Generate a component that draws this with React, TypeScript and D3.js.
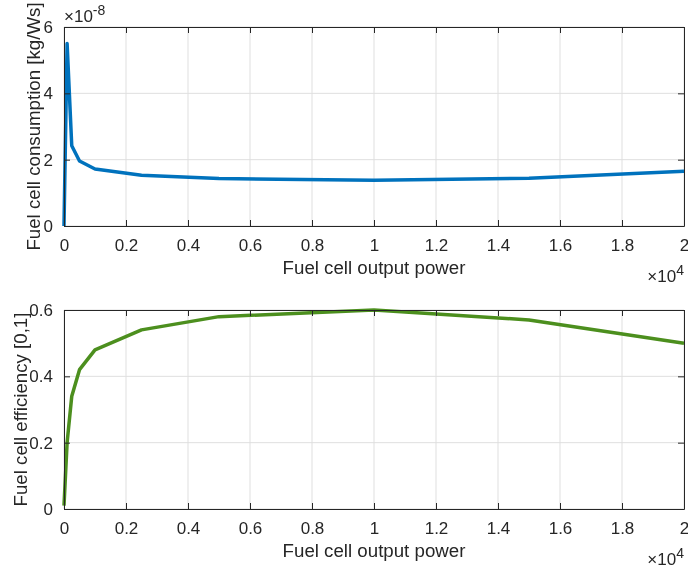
import React, { useEffect, useRef } from 'react'
import * as d3 from 'd3'

// output power [W]
const power = [0, 100, 250, 500, 1000, 2500, 5000, 10000, 15000, 20000]
// fuel consumption [1e-8 kg/Ws]
const consumption = [0, 5.5, 2.42, 1.96, 1.72, 1.53, 1.43, 1.38, 1.44, 1.65]
// efficiency [0,1]
const efficiency = [0.01, 0.2, 0.34, 0.42, 0.48, 0.54, 0.58, 0.6, 0.57, 0.5]

const xTicks = [0, 0.2, 0.4, 0.6, 0.8, 1, 1.2, 1.4, 1.6, 1.8, 2]
const yTicksTop = [0, 2, 4, 6]
const yTicksBottom = [0, 0.2, 0.4, 0.6]

const FONT = 'Liberation Sans, Arial, Helvetica, sans-serif'

function App() {
  const svgRef = useRef<SVGSVGElement>(null)

  useEffect(() => {
    const svg = d3.select(svgRef.current)
    svg.selectAll('*').remove()

    const left = 64, right = 684

    const panels = [
      { top: 27, bottom: 226, y: consumption, yMax: 6, yTicks: yTicksTop, color: '#0072BD', label: 'Fuel cell consumption [kg/Ws]', labelX: 40, exp: '-8' },
      { top: 310, bottom: 509, y: efficiency, yMax: 0.6, yTicks: yTicksBottom, color: '#4C8F1E', label: 'Fuel cell efficiency [0,1]', labelX: 27, exp: null },
    ]

    panels.forEach(p => {
      const x = d3.scaleLinear().domain([0, 2]).range([left, right])
      const y = d3.scaleLinear().domain([0, p.yMax]).range([p.bottom, p.top])
      const g = svg.append('g')

      // grid
      g.selectAll('.gx').data(xTicks).join('line')
        .attr('x1', d => x(d)).attr('x2', d => x(d))
        .attr('y1', p.top).attr('y2', p.bottom)
        .attr('stroke', '#dfdfdf').attr('stroke-width', 1)
      g.selectAll('.gy').data(p.yTicks).join('line')
        .attr('x1', left).attr('x2', right)
        .attr('y1', d => y(d)).attr('y2', d => y(d))
        .attr('stroke', '#dfdfdf').attr('stroke-width', 1)

      // line
      const line = d3.line<number>()
        .x((d, i) => x(power[i] / 10000))
        .y(d => y(d))
      g.append('path')
        .datum(p.y)
        .attr('d', line)
        .attr('fill', 'none')
        .attr('stroke', p.color)
        .attr('stroke-width', 3.5)
        .attr('stroke-linejoin', 'round')

      // axes (ticks inside)
      const xAxis = d3.axisBottom(x).tickValues(xTicks).tickSizeInner(-6).tickSizeOuter(0)
        .tickFormat(d => String(d)).tickPadding(13)
      const xg = g.append('g').attr('transform', `translate(0,${p.bottom})`).call(xAxis)
      const xTop = d3.axisTop(x).tickValues(xTicks).tickSizeInner(-6).tickSizeOuter(0).tickFormat(() => '')
      const xtg = g.append('g').attr('transform', `translate(0,${p.top})`).call(xTop)
      const yAxis = d3.axisLeft(y).tickValues(p.yTicks).tickSizeInner(-6).tickSizeOuter(0)
        .tickFormat(d => String(d)).tickPadding(11)
      const yg = g.append('g').attr('transform', `translate(${left},0)`).call(yAxis)
      const yRight = d3.axisRight(y).tickValues(p.yTicks).tickSizeInner(-6).tickSizeOuter(0).tickFormat(() => '')
      const yrg = g.append('g').attr('transform', `translate(${right},0)`).call(yRight)

      ;[xg, xtg, yg, yrg].forEach(a => {
        a.select('.domain').attr('stroke', '#262626').attr('stroke-width', 1)
        a.selectAll('.tick line').attr('stroke', '#262626')
        a.selectAll('text').attr('fill', '#262626').style('font-family', FONT).style('font-size', '17px')
      })

      // labels
      g.append('text')
        .attr('x', (left + right) / 2).attr('y', p.bottom + 48)
        .attr('text-anchor', 'middle').attr('fill', '#262626')
        .style('font-family', FONT).style('font-size', '18.7px')
        .text('Fuel cell output power')
      g.append('text')
        .attr('transform', `translate(${p.labelX},${(p.top + p.bottom) / 2}) rotate(-90)`)
        .attr('text-anchor', 'middle').attr('fill', '#262626')
        .style('font-family', FONT).style('font-size', '18.7px')
        .text(p.label)

      const ex = g.append('text')
        .attr('x', right).attr('y', p.bottom + 56)
        .attr('text-anchor', 'end').attr('fill', '#262626')
        .style('font-family', FONT).style('font-size', '17px')
      ex.append('tspan').text('×10')
      ex.append('tspan').attr('dy', -7).style('font-size', '14px').text('4')

      if (p.exp) {
        const ey = g.append('text')
          .attr('x', left).attr('y', p.top - 5)
          .attr('fill', '#262626')
          .style('font-family', FONT).style('font-size', '17px')
        ey.append('tspan').text('×10')
        ey.append('tspan').attr('dy', -7).style('font-size', '14px').text(p.exp)
      }
    })
  }, [])

  return <svg ref={svgRef} width={688} height={570} style={{ position: 'fixed', left: 0, top: 0 }} />
}

export default App
